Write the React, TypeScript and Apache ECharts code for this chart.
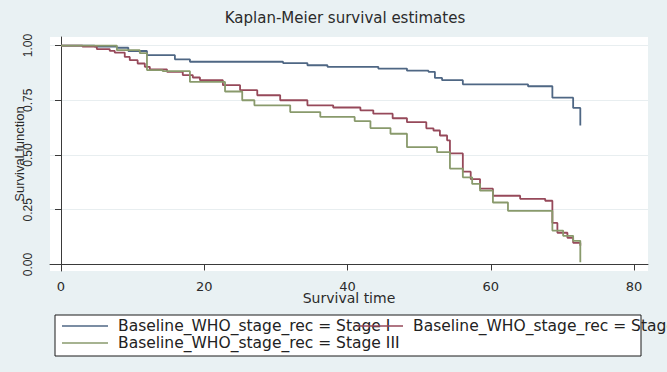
import React, { useEffect, useRef } from "react";
import * as echarts from "echarts";

const seriesNames = [
  "Baseline_WHO_stage_rec = Stage I",
  "Baseline_WHO_stage_rec = Stage II",
  "Baseline_WHO_stage_rec = Stage III",
];

const stageI: [number, number][] = [
  [0, 1], [4.7, 0.995], [7.8, 0.99], [9.4, 0.975], [12, 0.956], [15.9, 0.937],
  [18, 0.926], [31, 0.92], [34.4, 0.91], [37.2, 0.903], [44.3, 0.895], [48.3, 0.885],
  [51.3, 0.88], [52.2, 0.852], [53.2, 0.842], [56.1, 0.823], [65.2, 0.814],
  [68.6, 0.762], [71.5, 0.715], [72.5, 0.635],
];

const stageII: [number, number][] = [
  [0, 1], [3, 0.995], [5, 0.984], [6.8, 0.976], [7.5, 0.968], [8.9, 0.948],
  [9.6, 0.933], [10.7, 0.918], [11.7, 0.903], [12.4, 0.891], [14.8, 0.88],
  [17, 0.865], [18.4, 0.854], [19.4, 0.842], [22.6, 0.819], [25, 0.796],
  [27.4, 0.773], [30.6, 0.75], [34.4, 0.727], [38, 0.717], [41.8, 0.704],
  [43.6, 0.689], [46.3, 0.668], [48.3, 0.65], [51, 0.622], [52, 0.612],
  [52.9, 0.589], [53.9, 0.567], [54.3, 0.507], [56.1, 0.424], [57.2, 0.39],
  [58.5, 0.346], [60.3, 0.314], [64.1, 0.3], [67.6, 0.291], [68.6, 0.19],
  [69.3, 0.145], [70.7, 0.122], [71.5, 0.099], [72.5, 0.085],
];

const stageIII: [number, number][] = [
  [0, 1], [7.8, 0.979], [11, 0.965], [12, 0.888], [14.2, 0.883], [18, 0.834],
  [22.9, 0.79], [25.3, 0.75], [27, 0.727], [32, 0.696], [36.2, 0.674], [41, 0.655],
  [43.2, 0.623], [46, 0.597], [48.3, 0.536], [52.5, 0.513], [54.3, 0.438],
  [56.1, 0.398], [57.4, 0.368], [58.5, 0.337], [60.3, 0.283], [62.4, 0.245],
  [68.6, 0.155], [70.1, 0.131], [71.5, 0.108], [72.5, 0.01],
];

const xTicks = [0, 20, 40, 60, 80];
const yTicks = [0, 0.25, 0.5, 0.75, 1];
const colors = ["#4f6784", "#96495a", "#899a6c"];

const FONT = "'Liberation Sans', Arial, Helvetica, sans-serif";
const WIDE = "'DejaVu Sans', Verdana, sans-serif";

export default function App() {
  const ref = useRef<HTMLDivElement>(null);
  useEffect(() => {
    if (!ref.current) return;
    const chart = echarts.init(ref.current, undefined, { renderer: "svg" });
    const datasets = [stageI, stageII, stageIII];
    const legendPos = [
      { left: 62, top: 318 },
      { left: 357, top: 318 },
      { left: 62, top: 335 },
    ];
    chart.setOption({
      animation: false,
      backgroundColor: "#e9f1f3",
      textStyle: { fontFamily: WIDE },
      grid: {
        left: 50, top: 37, right: 19, bottom: 101,
        outerBoundsMode: "none",
        containLabel: false,
        show: true, backgroundColor: "#ffffff", borderWidth: 0,
      },
      graphic: [
        {
          type: "rect", z: 0,
          shape: { x: 55, y: 315, width: 586, height: 41 },
          style: { fill: "#ffffff", stroke: "#1a1a1a", lineWidth: 1 },
        },
        {
          type: "text", x: 345, y: 18, z: 10,
          style: {
            text: "Kaplan-Meier survival estimates",
            textAlign: "center", textVerticalAlign: "middle",
            font: `15px ${WIDE}`, fill: "#2b2b2b",
          },
        },
      ],
      xAxis: {
        type: "value",
        min: -1.536, max: 81.95,
        name: "Survival time",
        nameLocation: "middle",
        nameGap: 20,
        nameMoveOverlap: false,
        nameTextStyle: { fontSize: 14, color: "#2b2b2b", fontFamily: WIDE },
        axisLine: { show: true, lineStyle: { color: "#3a3a3a", width: 1 } },
        axisTick: { show: true, length: 6, customValues: xTicks, lineStyle: { color: "#3a3a3a" } },
        axisLabel: { customValues: xTicks, fontSize: 13, color: "#2b2b2b", margin: 9, fontFamily: WIDE },
        splitLine: { show: false },
      },
      yAxis: {
        type: "value",
        min: -0.0298, max: 1.039,
        name: "Survival function",
        nameLocation: "middle",
        nameGap: 24,
        nameMoveOverlap: false,
        nameTextStyle: { fontSize: 13, color: "#2b2b2b", fontFamily: FONT },
        axisLine: { show: true, lineStyle: { color: "#3a3a3a", width: 1 } },
        axisTick: { show: true, length: 6, customValues: yTicks, lineStyle: { color: "#3a3a3a" } },
        axisLabel: {
          customValues: yTicks, rotate: 90, fontSize: 12, color: "#2b2b2b", margin: 16,
          fontFamily: FONT,
          formatter: (v: number) => v.toFixed(2),
        },
        splitLine: { show: true, lineStyle: { color: "#e8eef0", width: 1 } },
      },
      legend: legendPos.map((p, i) => ({
        data: [seriesNames[i]],
        left: p.left, top: p.top, padding: 0,
        icon: "rect", itemWidth: 46, itemHeight: 1.5,
        selectedMode: false,
        textStyle: { fontSize: 15.5, color: "#222", fontFamily: WIDE, padding: [0, 0, 0, 5] },
      })),
      series: datasets.map((d, i) => ({
        name: seriesNames[i],
        type: "line",
        step: "end",
        data: d,
        showSymbol: false,
        symbol: "none",
        color: colors[i],
        lineStyle: { color: colors[i], width: 1.8 },
        itemStyle: { color: colors[i] },
        z: 2 + i,
      })),
    });
    return () => chart.dispose();
  }, []);
  return (
    <div
      ref={ref}
      style={{ position: "absolute", left: 0, top: 0, width: 667, height: 372 }}
    />
  );
}
